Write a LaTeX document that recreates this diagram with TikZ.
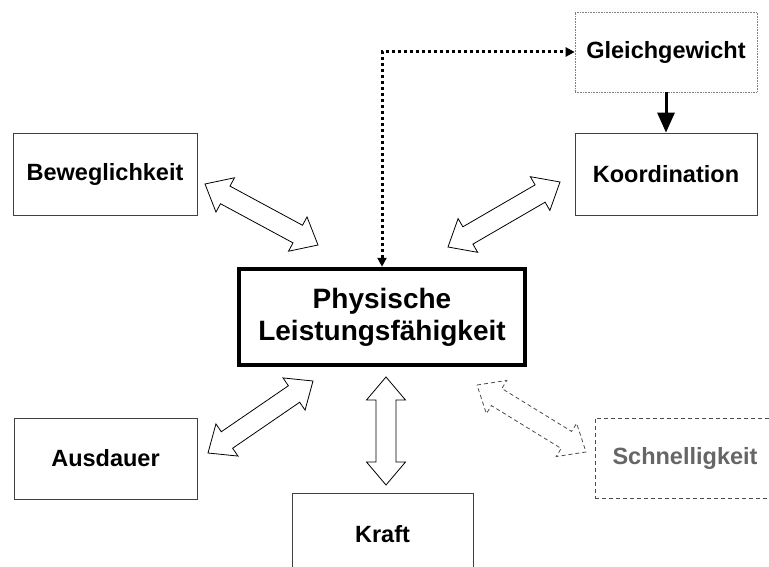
\documentclass[tikz,border=0pt]{standalone}
\usepackage{fontspec}
\setmainfont{Liberation Sans}
\usetikzlibrary{calc,arrows.meta}

\tikzset{
  box/.style={draw=black!75, line width=0.8pt, fill=white, inner sep=0pt,
    font=\fontsize{23.5}{28}\selectfont\bfseries},
  blockarrow/.style={draw=black, line width=0.8pt, fill=white, line join=miter},
}

% hollow double headed arrow between two tips
\newcommand\dblarrow[3][]{%
  \draw[blockarrow,#1] (#2)
    -- ($(#2)!23pt!(#3)!19.5pt!90:(#3)$)
    -- ($(#2)!23pt!(#3)!10pt!90:(#3)$)
    -- ($(#3)!23pt!(#2)!10pt!-90:(#2)$)
    -- ($(#3)!23pt!(#2)!19.5pt!-90:(#2)$)
    -- (#3)
    -- ($(#3)!23pt!(#2)!19.5pt!90:(#2)$)
    -- ($(#3)!23pt!(#2)!10pt!90:(#2)$)
    -- ($(#2)!23pt!(#3)!10pt!-90:(#3)$)
    -- ($(#2)!23pt!(#3)!19.5pt!-90:(#3)$)
    -- cycle;}

\begin{document}
\begin{tikzpicture}[x=1pt,y=-1pt]
    \useasboundingbox (0,0) rectangle (769,567);
    \clip (0,0) rectangle (769,567);

    \node[draw=black, line width=4pt, fill=white, inner sep=0pt, align=center,
      minimum width=286.5pt, minimum height=96.5pt,
      font=\fontsize{28}{32}\selectfont\bfseries] (phys) at (382,317)
      {Physische\\Leistungsf\"ahigkeit};

    \node[box, minimum width=182pt, minimum height=80pt, draw=gray,
      line width=0.6pt, densely dotted] (gleich) at (666,52) {Gleichgewicht};
    \node[box, minimum width=182pt, minimum height=82pt] (koord) at (666,174) {Koordination};
    \node[box, minimum width=184pt, minimum height=82pt] (bewegl) at (105,174) {Beweglichkeit};
    \node[box, minimum width=183pt, minimum height=81pt] (ausd) at (105.5,458.5) {Ausdauer};
    \node[box, minimum width=181pt, minimum height=82pt] (kraft) at (382.5,534) {Kraft};
    \node[box, minimum width=180pt, minimum height=80pt, draw=black!70,
      dash pattern=on 4pt off 3pt, text=black!60] (schnell) at (685,458) {Schnelligkeit};

    \draw[line width=3pt, dash pattern=on 3pt off 3pt,
      {Triangle[length=9pt,width=9pt]}-{Triangle[length=9pt,width=9pt]}]
      (phys.north) |- (gleich.west);
    \draw[line width=3pt, -{Triangle[length=20pt,width=17pt]}] (gleich.south) -- (koord.north);

    \coordinate (bwA) at (205,184);
    \coordinate (bwB) at (318,245);
    \coordinate (koA) at (448,247);
    \coordinate (koB) at (560,182);
    \coordinate (auA) at (208,453);
    \coordinate (auB) at (313,381);
    \coordinate (krA) at (386,377);
    \coordinate (krB) at (386,485);
    \coordinate (scA) at (477,385);
    \coordinate (scB) at (586,452);

    \dblarrow{bwA}{bwB}
    \dblarrow{koA}{koB}
    \dblarrow{auA}{auB}
    \dblarrow{krA}{krB}
    \dblarrow[draw=black!70, dash pattern=on 4pt off 3pt]{scA}{scB}
\end{tikzpicture}
\end{document}
